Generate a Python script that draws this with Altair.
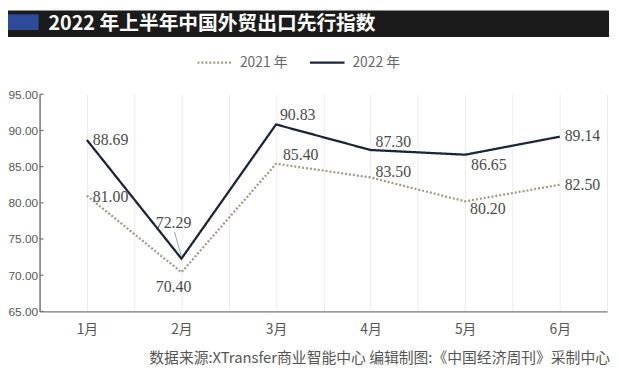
import json
import altair as alt
import pandas as pd

MONTHS = ["1月", "2月", "3月", "4月", "5月", "6月"]
SERIES = ["2021 年", "2022 年"]
VALUES_2021 = [81.00, 70.40, 85.40, 83.50, 80.20, 82.50]
VALUES_2022 = [88.69, 72.29, 90.83, 87.30, 86.65, 89.14]
Y_TICKS = [65, 70, 75, 80, 85, 90, 95]
TITLE = "2022 年上半年中国外贸出口先行指数"
SOURCE = "数据来源:XTransfer商业智能中心  编辑制图:《中国经济周刊》采制中心"

# label placement (styling): (dx, dy, align)
LABEL_PLACE = {
    ("2021 年", "1月"): (6, 1, "left"),
    ("2021 年", "2月"): (-8, 15, "center"),
    ("2021 年", "3月"): (7, -9, "left"),
    ("2021 年", "4月"): (5, -6, "left"),
    ("2021 年", "5月"): (5, 8, "left"),
    ("2021 年", "6月"): (5, 0, "left"),
    ("2022 年", "1月"): (6, 0, "left"),
    ("2022 年", "2月"): (-8, -36, "center"),
    ("2022 年", "3月"): (4, -10, "left"),
    ("2022 年", "4月"): (5, -8, "left"),
    ("2022 年", "5月"): (6, 11, "left"),
    ("2022 年", "6月"): (5, -1, "left"),
}

rows = []
for s, vals in zip(SERIES, [VALUES_2021, VALUES_2022]):
    for i, (m, v) in enumerate(zip(MONTHS, vals)):
        rows.append({"series": s, "month": m, "idx": i, "value": v, "label": f"{v:.2f}"})
df = pd.DataFrame(rows)
ticks_df = pd.DataFrame({"value": Y_TICKS})

PAD_L, PAD_T = 32, 85
W, H = 575, 220
COLORS = ["#a39886", "#1c2536"]
DASHES = [[2, 2], [1, 0]]
SANS = "Liberation Sans"
CJK = "Noto Sans CJK SC"
SERIF = "Liberation Serif"
AXIS_GREY = "#777777"

xvals = [i * 0.5 - 0.5 for i in range(2 * len(MONTHS) + 1)]
month_arr = json.dumps(MONTHS, ensure_ascii=False)
x_axis = alt.Axis(
    values=xvals,
    labelExpr=f"datum.value % 1 == 0 ? {month_arr}[datum.value] : ''",
    grid=True, gridColor="#ebebeb", gridWidth=1,
    ticks=False, labelPadding=11, labelFont=CJK, labelFontSize=14,
    labelColor="#555555", domainColor=AXIS_GREY, domainWidth=1.5,
    labelOverlap=False,
)
x_scale = alt.Scale(domain=[-0.5, len(MONTHS) - 0.5], nice=False, zero=False)
y_axis = alt.Axis(
    values=Y_TICKS, format=".2f", grid=False, ticks=False,
    labelPadding=2, labelFont=SANS, labelFontSize=12, labelColor="#555555",
    domainColor=AXIS_GREY, domainWidth=1.5, labelOverlap=False,
)
y_scale = alt.Scale(domain=[65, 95], nice=False, zero=False)


def X():
    return alt.X("idx:Q", title=None, scale=x_scale, axis=x_axis)


def Y():
    return alt.Y("value:Q", title=None, scale=y_scale, axis=y_axis)


color_enc = alt.Color("series:N", scale=alt.Scale(domain=SERIES, range=COLORS), legend=None)
dash_enc = alt.StrokeDash("series:N", scale=alt.Scale(domain=SERIES, range=DASHES), legend=None)

base = alt.Chart(df)
lines = base.mark_line(strokeWidth=2.3).encode(
    x=X(), y=Y(), color=color_enc, strokeDash=dash_enc, order="idx:Q"
)

# inward tick marks on the y axis
yticks = alt.Chart(ticks_df).mark_rule(color=AXIS_GREY, strokeWidth=1.2).encode(
    x=alt.value(0), x2=alt.value(4), y=Y()
)

layers = []
for (s, m), (dx, dy, al) in LABEL_PLACE.items():
    layers.append(
        base.transform_filter(f"datum.series == '{s}' && datum.month == '{m}'")
        .mark_text(dx=dx, dy=dy, align=al, baseline="middle", font=SERIF, fontSize=16, color="#4a4a4a")
        .encode(x=X(), y=Y(), text="label:N")
    )

leader = base.transform_filter(f"datum.series == '{SERIES[1]}' && datum.month == '{MONTHS[1]}'").mark_rule(
    color="#8fa3b5", strokeWidth=1, xOffset=0, yOffset=-2, x2Offset=-7, y2Offset=-27
).encode(x=X(), y=Y(), x2="idx:Q", y2="value:Q")

one = alt.Chart(pd.DataFrame({"a": [0]}))
bar = one.mark_rect(color="#1b1b1b").encode(
    x=alt.value(-PAD_L), x2=alt.value(617 - 8 - PAD_L), y=alt.value(-PAD_T), y2=alt.value(35 - 8 - PAD_T)
)
blue = one.mark_rect(color="#2d4b9b").encode(
    x=alt.value(-PAD_L), x2=alt.value(39 - 8 - PAD_L), y=alt.value(12 - 8 - PAD_T), y2=alt.value(28 - 8 - PAD_T)
)
title = one.mark_text(
    align="left", baseline="middle", font=CJK, fontSize=20, fontWeight="bold", color="white"
).encode(x=alt.value(49 - 8 - PAD_L), y=alt.value(21.5 - 8 - PAD_T), text=alt.value(TITLE))

legend_layers = []
for i, s in enumerate(SERIES):
    x0 = 200 - 8 - PAD_L + i * 114
    ly = 61 - 8 - PAD_T
    legend_layers.append(
        one.mark_rule(color=COLORS[i], strokeWidth=2.2, strokeDash=DASHES[i]).encode(
            x=alt.value(x0), x2=alt.value(x0 + 35), y=alt.value(ly)
        )
    )
    legend_layers.append(
        one.mark_text(align="left", baseline="middle", font=CJK, fontSize=14, color="#666666").encode(
            x=alt.value(x0 + 43), y=alt.value(ly), text=alt.value(s)
        )
    )

footer = one.mark_text(align="right", baseline="middle", font=CJK, fontSize=15, color="#555555").encode(
    x=alt.value(618 - 8 - PAD_L), y=alt.value(360 - 8 - PAD_T), text=alt.value(SOURCE)
)

chart = alt.layer(
    bar, blue, title, *legend_layers, footer, lines, yticks, leader, *layers
).properties(
    width=W, height=H,
    padding={"left": PAD_L, "top": PAD_T, "right": 611 - PAD_L - W, "bottom": 364 - PAD_T - H},
    autosize=alt.AutoSizeParams(type="none"),
    background="white",
).configure_view(stroke=None).configure_axisY(labelOverlap=False)

chart.save("out.html", embed_options={"renderer": "svg", "actions": False})
